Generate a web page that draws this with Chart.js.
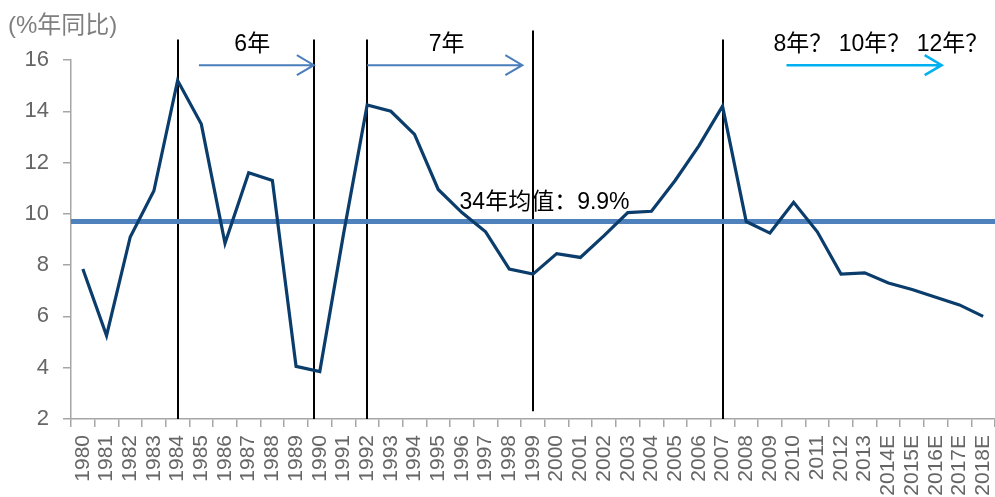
<!DOCTYPE html>
<html>
<head>
<meta charset="utf-8">
<script src="https://cdn.jsdelivr.net/npm/chart.js@4.4.1/dist/chart.umd.min.js"></script>
<style>
  html, body { margin: 0; padding: 0; background: #fff; }
</style>
</head>
<body>
<canvas id="gdp" width="995" height="497"></canvas>
<script>
// 数据：中国 GDP 同比增速
const years = ['1980', '1981', '1982', '1983', '1984', '1985', '1986', '1987', '1988', '1989',
  '1990', '1991', '1992', '1993', '1994', '1995', '1996', '1997', '1998', '1999',
  '2000', '2001', '2002', '2003', '2004', '2005', '2006', '2007', '2008', '2009',
  '2010', '2011', '2012', '2013', '2014E', '2015E', '2016E', '2017E', '2018E'];
const gdpGrowth = [7.85, 5.25, 9.1, 10.9, 15.2, 13.5, 8.85, 11.6, 11.3, 4.05,
  3.85, 9.2, 14.25, 14.0, 13.1, 10.95, 10.05, 9.3, 7.85, 7.65,
  8.45, 8.3, 9.15, 10.05, 10.1, 11.3, 12.65, 14.2, 9.7, 9.25,
  10.45, 9.3, 7.65, 7.7, 7.3, 7.05, 6.75, 6.45, 6.0];
const yMin = 2, yMax = 16, yStep = 2;
const averageGrowth = 9.7;
const averageLabel = '34年均值：9.9%';
const cycleLabels = ['6年', '7年', '8年？ 10年？ 12年？'];
const yAxisTitle = '(%年同比)';

const FONT = "'Liberation Sans', 'Noto Sans CJK SC', sans-serif";

// 周期标注：竖线、箭头、文字（位置用类目序号 + 数值坐标）
const cyclePlugin = {
  id: 'cycles',
  beforeDatasetsDraw(chart) {
    const { ctx, chartArea, scales: { x, y } } = chart;
    ctx.save();
    // 竖线
    ctx.strokeStyle = '#000';
    ctx.lineWidth = 2;
    [[4, 16.8, 2], [9.75, 16.8, 2], [12, 16.8, 2], [19, 17.15, 2.3], [27, 16.8, 2]].forEach(([i, top, bottom]) => {
      const px = Math.round(x.getPixelForValue(i));
      ctx.beginPath();
      ctx.moveTo(px, y.getPixelForValue(top));
      ctx.lineTo(px, y.getPixelForValue(bottom));
      ctx.stroke();
    });
    // 均值线
    const ya = y.getPixelForValue(averageGrowth);
    ctx.strokeStyle = '#4f81bd';
    ctx.lineWidth = 5;
    ctx.beginPath();
    ctx.moveTo(chartArea.left, ya);
    ctx.lineTo(chartArea.right, ya);
    ctx.stroke();
    ctx.restore();
  },
  afterDraw(chart) {
    const { ctx, scales: { x, y } } = chart;
    ctx.save();
    const arrow = (from, to, val, color, w) => {
      const x0 = x.getPixelForValue(from), x1 = x.getPixelForValue(to);
      const py = y.getPixelForValue(val);
      ctx.strokeStyle = color;
      ctx.lineWidth = w;
      ctx.beginPath();
      ctx.moveTo(x0, py); ctx.lineTo(x1, py);
      ctx.moveTo(x1 - 17, py - 10); ctx.lineTo(x1, py); ctx.lineTo(x1 - 17, py + 10);
      ctx.stroke();
    };
    arrow(4.9, 9.75, 15.8, '#4a7ebb', 2);
    arrow(12, 18.55, 15.8, '#4a7ebb', 2);
    arrow(29.7, 36.25, 15.8, '#00b0f0', 2.5);

    ctx.fillStyle = '#000';
    ctx.textBaseline = 'middle';
    ctx.font = '23px ' + FONT;
    ctx.textAlign = 'center';
    ctx.fillText(cycleLabels[0], x.getPixelForValue(7.15), y.getPixelForValue(16.6));
    ctx.fillText(cycleLabels[1], x.getPixelForValue(15.35), y.getPixelForValue(16.6));
    ctx.textAlign = 'left';
    ctx.fillText(cycleLabels[2], x.getPixelForValue(29.15), y.getPixelForValue(16.6));
    ctx.fillText(averageLabel, x.getPixelForValue(15.9), y.getPixelForValue(10.45));

    // 纵轴单位
    ctx.fillStyle = '#7f7f7f';
    ctx.font = '24px ' + FONT;
    ctx.fillText(yAxisTitle, 8, 26);
    ctx.restore();
  }
};

new Chart(document.getElementById('gdp'), {
  type: 'line',
  data: {
    labels: years,
    datasets: [{
      data: gdpGrowth,
      borderColor: '#0b3d6c',
      borderWidth: 3.2,
      pointRadius: 0,
      tension: 0,
      fill: false,
      clip: false
    }]
  },
  options: {
    responsive: false,
    animation: false,
    devicePixelRatio: 1,
    layout: { padding: { top: 60, right: 0, bottom: 0, left: 0 } },
    plugins: { legend: { display: false }, tooltip: { enabled: false } },
    scales: {
      x: {
        offset: true,
        afterFit(scale) { scale.height = 78; scale.paddingLeft = 0; scale.paddingRight = 0; },
        border: { display: true, color: '#a6a6a6', width: 1.5 },
        grid: { display: true, offset: true, drawOnChartArea: false, drawTicks: true, tickLength: 8, color: '#a6a6a6', lineWidth: 1.5 },
        ticks: { autoSkip: false, minRotation: 90, maxRotation: 90, padding: 8, color: '#666', font: { family: FONT, size: 21 } }
      },
      y: {
        min: yMin,
        max: yMax,
        afterFit(scale) { scale.width = 71; scale.paddingTop = 0; scale.paddingBottom = 0; },
        border: { display: true, color: '#a6a6a6', width: 1.5 },
        grid: { display: true, drawOnChartArea: false, drawTicks: true, tickLength: 8, color: '#a6a6a6', lineWidth: 1.5 },
        ticks: { stepSize: yStep, padding: 14, color: '#666', font: { family: FONT, size: 22 } }
      }
    }
  },
  plugins: [cyclePlugin]
});
</script>
</body>
</html>
